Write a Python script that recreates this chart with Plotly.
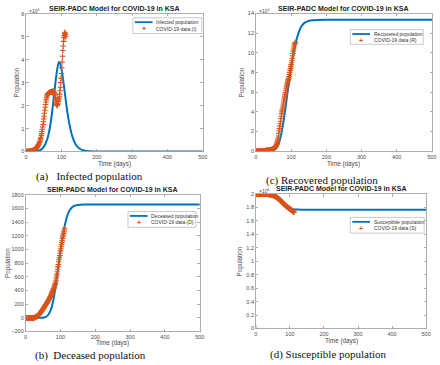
import plotly.graph_objects as go

# ---------------- data ----------------
days = list(range(0, 113))

# Infected (x 10^4)
model_t = [0, 10, 20, 30, 40, 50, 60, 65, 70, 75, 80, 85, 90, 93, 96, 100, 105, 110, 115, 120,
           130, 140, 150, 160, 170, 180, 200, 250, 300, 400, 500]
model_I = [0, 0, 0.005, 0.02, 0.06, 0.2, 0.55, 0.85, 1.3, 1.9, 2.6, 3.25, 3.75, 3.9, 3.85, 3.6,
           3.1, 2.5, 1.9, 1.4, 0.7, 0.32, 0.14, 0.06, 0.025, 0.01, 0, 0, 0, 0, 0]
data_I = [0, 0, 0, 0, 0, 0, 0.001, 0.001, 0.002, 0.003,
          0.005, 0.008, 0.01, 0.013, 0.017, 0.02, 0.025, 0.03, 0.035, 0.04,
          0.05, 0.06, 0.07, 0.08, 0.09, 0.1, 0.11, 0.12, 0.13, 0.15,
          0.17, 0.19, 0.21, 0.24, 0.27, 0.3, 0.33, 0.37, 0.41, 0.45,
          0.5, 0.56, 0.62, 0.7, 0.78, 0.87, 0.97, 1.07, 1.18, 1.3,
          1.42, 1.54, 1.67, 1.8, 1.93, 2.05, 2.16, 2.26, 2.35, 2.42,
          2.47, 2.5, 2.52, 2.54, 2.55, 2.56, 2.57, 2.58, 2.58, 2.59,
          2.6, 2.6, 2.61, 2.6, 2.62, 2.61, 2.6, 2.62, 2.6, 2.58,
          2.55, 2.5, 2.45, 2.35, 2.25, 2.15, 2.08, 2.02, 2.0, 2.05,
          2.1, 2.18, 2.25, 2.3, 2.38, 2.5, 2.65, 2.8, 3.0, 3.2,
          3.4, 3.65, 3.9, 4.15, 4.4, 4.6, 4.8, 4.95, 5.05, 5.15,
          5.2, 5.1, 5.0]

# Recovered (x 10^4)
model_tR = [0, 20, 40, 50, 55, 60, 65, 70, 75, 80, 85, 90, 95, 100, 105, 110, 115, 120, 125,
            130, 140, 150, 160, 175, 200, 300, 400, 500]
model_R = [0, 0, 0.02, 0.1, 0.2, 0.4, 0.8, 1.4, 2.3, 3.4, 4.7, 6.0, 7.3, 8.5, 9.6, 10.5, 11.3,
           11.9, 12.4, 12.75, 13.1, 13.25, 13.32, 13.35, 13.36, 13.36, 13.36, 13.36]
data_R = [0, 0, 0, 0, 0, 0, 0, 0, 0, 0,
          0.002, 0.003, 0.004, 0.005, 0.006, 0.008, 0.01, 0.012, 0.015, 0.018,
          0.02, 0.025, 0.03, 0.035, 0.04, 0.045, 0.05, 0.055, 0.06, 0.065,
          0.07, 0.075, 0.08, 0.085, 0.09, 0.095, 0.1, 0.105, 0.11, 0.115,
          0.12, 0.13, 0.14, 0.15, 0.16, 0.17, 0.18, 0.2, 0.22, 0.24,
          0.26, 0.28, 0.3, 0.33, 0.36, 0.4, 0.45, 0.52, 0.6, 0.7,
          0.82, 0.98, 1.15, 1.35, 1.55, 1.8, 2.05, 2.3, 2.55, 2.8,
          3.05, 3.3, 3.55, 3.8, 4.0, 4.2, 4.4, 4.6, 4.8, 5.0,
          5.2, 5.4, 5.6, 5.8, 6.0, 6.2, 6.4, 6.55, 6.7, 6.85,
          7.0, 7.15, 7.3, 7.45, 7.6, 7.8, 8.0, 8.2, 8.4, 8.6,
          8.8, 9.0, 9.2, 9.45, 9.7, 9.95, 10.2, 10.4, 10.6, 10.8,
          10.9, 11.0, 11.05]

# Deceased
model_tD = [0, 20, 40, 50, 55, 60, 65, 70, 75, 80, 85, 90, 95, 100, 105, 110, 115, 120, 125,
            130, 140, 150, 170, 200, 300, 400, 500]
model_D = [0, 0, 0, 3, 8, 20, 45, 90, 160, 270, 420, 600, 790, 970, 1140, 1290, 1410, 1500,
           1560, 1600, 1640, 1652, 1657, 1657, 1657, 1657, 1657]
data_D = [0, 0, 0, 0, 0, 0, 0, 0, 0, 0,
          0, 0, 0, 0, 0, 0, 0, 0, 0, 0,
          0, 0, 0, 0, 1, 2, 4, 6, 8, 10,
          13, 16, 19, 23, 27, 31, 36, 41, 46, 52,
          58, 64, 70, 77, 84, 91, 98, 106, 114, 122,
          130, 138, 146, 154, 162, 170, 178, 186, 194, 202,
          210, 218, 226, 235, 244, 253, 262, 271, 280, 290,
          300, 311, 322, 333, 345, 357, 369, 381, 394, 407,
          420, 435, 450, 466, 482, 500, 525, 550, 580, 610,
          640, 675, 710, 745, 780, 820, 850, 880, 910, 945,
          980, 1010, 1040, 1070, 1100, 1130, 1160, 1185, 1210, 1235,
          1260, 1285, 1310]

# Susceptible (x 10^6)
model_tS = [0, 20, 40, 50, 60, 70, 80, 90, 100, 110, 120, 140, 200, 300, 400, 500]
model_S = [2.0, 2.0, 1.995, 1.99, 1.97, 1.93, 1.88, 1.83, 1.79, 1.775, 1.77, 1.768, 1.768,
           1.768, 1.768, 1.768]
data_S = [0, 2.0, 2.0, 2.0, 2.0, 2.0, 2.0, 2.0, 2.0, 2.0,
          2.0, 2.0, 2.0, 2.0, 2.0, 2.0, 2.0, 2.0, 2.0, 2.0,
          2.0, 2.0, 2.0, 2.0, 2.0, 2.0, 2.0, 2.0, 2.0, 1.999,
          1.999, 1.999, 1.998, 1.998, 1.998, 1.997, 1.997, 1.996, 1.996, 1.995,
          1.995, 1.994, 1.993, 1.992, 1.991, 1.99, 1.989, 1.988, 1.986, 1.985,
          1.983, 1.981, 1.979, 1.977, 1.975, 1.972, 1.969, 1.966, 1.963, 1.96,
          1.956, 1.952, 1.948, 1.944, 1.94, 1.936, 1.932, 1.928, 1.924, 1.92,
          1.915, 1.91, 1.905, 1.9, 1.895, 1.89, 1.885, 1.879, 1.873, 1.867,
          1.861, 1.856, 1.851, 1.846, 1.842, 1.838, 1.834, 1.83, 1.826, 1.822,
          1.818, 1.814, 1.81, 1.806, 1.802, 1.798, 1.794, 1.79, 1.786, 1.782,
          1.778, 1.774, 1.77, 1.766, 1.762, 1.758, 1.754, 1.75, 1.746, 1.742,
          1.738, 1.734, 1.73]

panels = [
    ("", model_t, model_I, data_I, "Infected population", "COVID-19 data (I)", [0, 6], 1, "4", "(a)   Infected population"),
    ("2", model_tR, model_R, data_R, "Recovered population", "COVID-19 data (R)", [0, 14], 2, "4", "(c) Recovered population"),
    ("3", model_tD, model_D, data_D, "Deceased population", "COVID-19 data (D)", [-200, 1800], 200, None, "(b)  Deceased population"),
    ("4", model_tS, model_S, data_S, "Susceptible population", "COVID-19 data (S)", [0, 2], 0.2, "6", "(d) Susceptible population"),
]

# ---------------- layout geometry (pixels) ----------------
W, H = 440, 365
boxes = {  # left, right, top, bottom
    "": (24.5, 204, 11, 151),
    "2": (258, 437, 10.7, 150.7),
    "3": (24, 201, 195, 334),
    "4": (258, 431, 194.3, 331),
}
legend_box = {  # left, top, right, bottom
    "": (133, 15, 203, 31),
    "2": (354, 27, 428, 42),
    "3": (128, 212, 197, 228),
    "4": (354, 218, 429, 234),
}
ylabel_x = {"": 15, "2": 244, "3": 6, "4": 242}
xlabel_y = {"": 164, "2": 164, "3": 346, "4": 344}
caption_pos = {"": (89, 176), "2": (325, 180), "3": (90, 358), "4": (332, 357)}

BLUE = "#0072BD"
RED = "#D95319"
AXC = "#9a9a9a"
TXT = "#4a4a4a"

fig = go.Figure()
annotations = []
shapes = []
layout = dict(
    width=W, height=H, margin=dict(l=0, r=0, t=0, b=0),
    paper_bgcolor="white", plot_bgcolor="white", showlegend=False, hovermode=False,
    font=dict(family="Liberation Sans, Arial, sans-serif", size=6, color=TXT),
)


def px(x):
    return x / W


def py(y):
    return 1 - y / H


def ann(text, x, y, size, color=TXT, xanchor="center", **kw):
    d = dict(text=text, x=px(x), y=py(y), xref="paper", yref="paper", showarrow=False,
             xanchor=xanchor, yanchor="middle", font=dict(size=size, color=color), **kw)
    annotations.append(d)


for key, mt, my, dy, mname, dname, yr, dt, expo, cap in panels:
    l, r, t, b = boxes[key]
    fig.add_trace(go.Scatter(
        x=mt, y=my, mode="lines", name=mname,
        line=dict(color=BLUE, width=2, shape="spline", smoothing=0.6),
        xaxis="x" + key, yaxis="y" + key))
    fig.add_trace(go.Scatter(
        x=days, y=dy, mode="markers", name=dname,
        marker=dict(symbol="cross-thin", size=4, line=dict(color=RED, width=1.1), color=RED),
        xaxis="x" + key, yaxis="y" + key))
    axcommon = dict(showline=True, linecolor=AXC, linewidth=0.8, mirror="ticks", ticks="inside",
                    ticklen=2.5, tickcolor=AXC, tickwidth=0.8, showgrid=False, zeroline=False,
                    tickfont=dict(size=5.5, color=TXT))
    layout["xaxis" + key] = dict(domain=[px(l), px(r)], range=[0, 500], dtick=100,
                                 anchor="y" + key, **axcommon)
    layout["yaxis" + key] = dict(domain=[py(b), py(t)], range=yr, dtick=dt,
                                 tickformat="d" if dt >= 1 else None,
                                 anchor="x" + key, **axcommon)
    cx = (l + r) / 2
    ann("<b>SEIR-PADC Model for COVID-19 in KSA</b>", cx, t - 5.5, 7, "#222")
    ann("Time (days)", cx, xlabel_y[key], 6.3)
    ann("Population", ylabel_x[key], (t + b) / 2, 6.3, textangle=-90)
    if expo:
        ann("×10<sup>" + expo + "</sup>", l + 1, t - 3, 5, xanchor="left")
    capx, capy = caption_pos[key]
    annotations.append(dict(text=cap, x=px(capx), y=py(capy), xref="paper", yref="paper",
                            showarrow=False, xanchor="center", yanchor="middle",
                            font=dict(family="Liberation Serif, Times New Roman, serif", size=11,
                                      color="#111")))
    # legend box (drawn in MATLAB style)
    L, T, R, B = legend_box[key]
    shapes.append(dict(type="rect", xref="paper", yref="paper", x0=px(L), x1=px(R), y0=py(B), y1=py(T),
                       fillcolor="white", line=dict(color="#bdbdbd", width=0.8), layer="above"))
    row1 = T + 4.5
    row2 = T + 11
    shapes.append(dict(type="line", xref="paper", yref="paper", x0=px(L + 2), x1=px(L + 20),
                       y0=py(row1), y1=py(row1), line=dict(color=BLUE, width=1.8), layer="above"))
    ann("<b>+</b>", L + 11, row2, 7, RED)
    ann(mname, L + 21.5, row1, 5, "#333", xanchor="left")
    ann(dname, L + 21.5, row2, 5, "#333", xanchor="left")

layout["annotations"] = annotations
layout["shapes"] = shapes
fig.update_layout(**layout)
fig.write_html("out.html", config={"displayModeBar": False, "staticPlot": True},
               post_script="document.body.style.margin='0px';document.body.style.overflow='hidden';")
